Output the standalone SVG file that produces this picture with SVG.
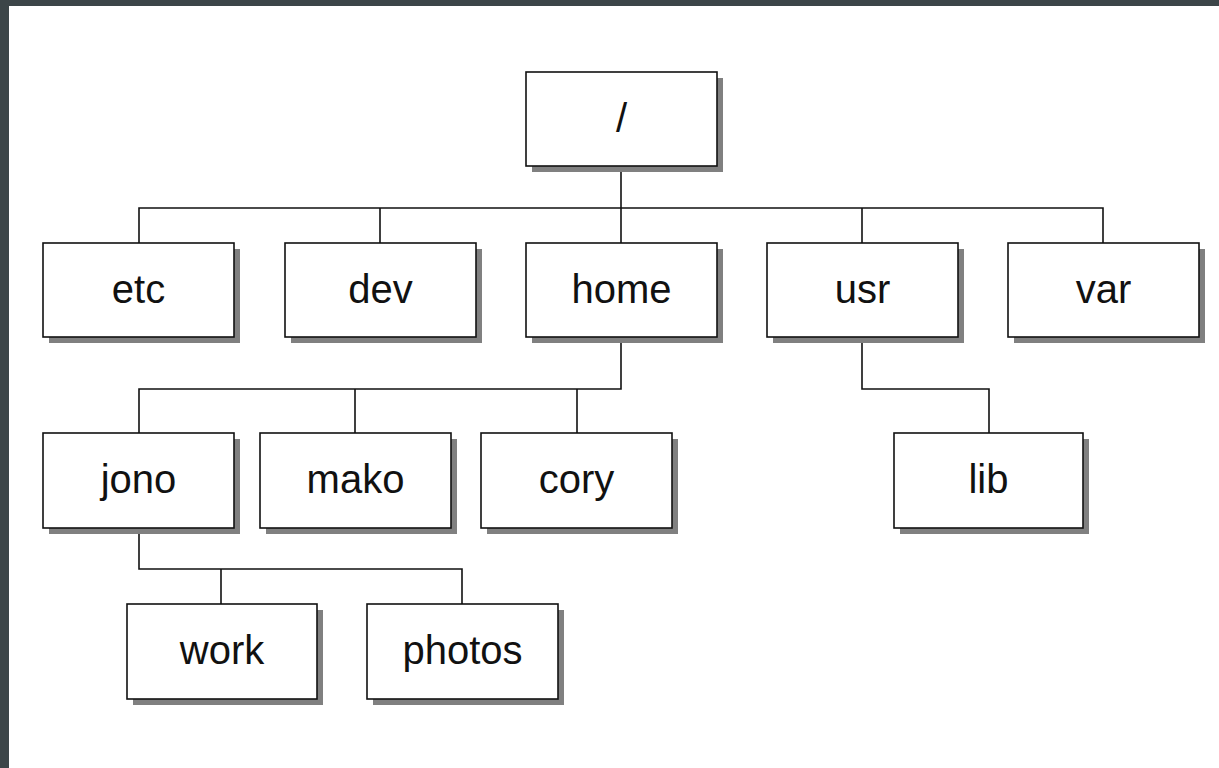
<svg xmlns="http://www.w3.org/2000/svg" width="1219" height="768" viewBox="0 0 1219 768">
<style>
.sh{fill:#808080}
.bx{fill:#fff;stroke:#111;stroke-width:1.6}
.t{font-family:"Liberation Sans",Arial,sans-serif;font-size:40px;fill:#111;text-anchor:middle}
.c{fill:none;stroke:#111;stroke-width:1.6}
</style>
<rect x="0" y="0" width="1219" height="768" fill="#fff"/>
<rect x="0" y="0" width="1219" height="6" fill="#3c4548"/>
<rect x="0" y="0" width="9" height="768" fill="#3c4548"/>
<g id="connectors">
<path class="c" d="M621,166 V208 M139,243 V208 H1103 V243 M380,208 V243 M621,208 V243 M862,208 V243"/>
<path class="c" d="M621,337 V389 H139 V433 M355,389 V433 M577,389 V433"/>
<path class="c" d="M862,337 V389 H989 V433"/>
<path class="c" d="M139,528 V569 H462 V604 M221,569 V604"/>
</g>
<g id="root"><rect class="sh" x="532" y="78" width="191" height="94"/><rect class="bx" x="526" y="72" width="191" height="94"/><text class="t" x="621.5" y="132">/</text></g>
<g id="etc"><rect class="sh" x="49" y="249" width="191" height="94"/><rect class="bx" x="43" y="243" width="191" height="94"/><text class="t" x="138.5" y="303">etc</text></g>
<g id="dev"><rect class="sh" x="291" y="249" width="191" height="94"/><rect class="bx" x="285" y="243" width="191" height="94"/><text class="t" x="380.5" y="303">dev</text></g>
<g id="home"><rect class="sh" x="532" y="249" width="191" height="94"/><rect class="bx" x="526" y="243" width="191" height="94"/><text class="t" x="621.5" y="303">home</text></g>
<g id="usr"><rect class="sh" x="773" y="249" width="191" height="94"/><rect class="bx" x="767" y="243" width="191" height="94"/><text class="t" x="862.5" y="303">usr</text></g>
<g id="var"><rect class="sh" x="1014" y="249" width="191" height="94"/><rect class="bx" x="1008" y="243" width="191" height="94"/><text class="t" x="1103.5" y="303">var</text></g>
<g id="jono"><rect class="sh" x="49" y="439" width="191" height="95"/><rect class="bx" x="43" y="433" width="191" height="95"/><text class="t" x="138.5" y="493">jono</text></g>
<g id="mako"><rect class="sh" x="266" y="439" width="191" height="95"/><rect class="bx" x="260" y="433" width="191" height="95"/><text class="t" x="355.5" y="493">mako</text></g>
<g id="cory"><rect class="sh" x="487" y="439" width="191" height="95"/><rect class="bx" x="481" y="433" width="191" height="95"/><text class="t" x="576.5" y="493">cory</text></g>
<g id="lib"><rect class="sh" x="900" y="439" width="189" height="95"/><rect class="bx" x="894" y="433" width="189" height="95"/><text class="t" x="988.5" y="493">lib</text></g>
<g id="work"><rect class="sh" x="133" y="610" width="190" height="95"/><rect class="bx" x="127" y="604" width="190" height="95"/><text class="t" x="222" y="664">work</text></g>
<g id="photos"><rect class="sh" x="373" y="610" width="191" height="95"/><rect class="bx" x="367" y="604" width="191" height="95"/><text class="t" x="462.5" y="664">photos</text></g>
</svg>
